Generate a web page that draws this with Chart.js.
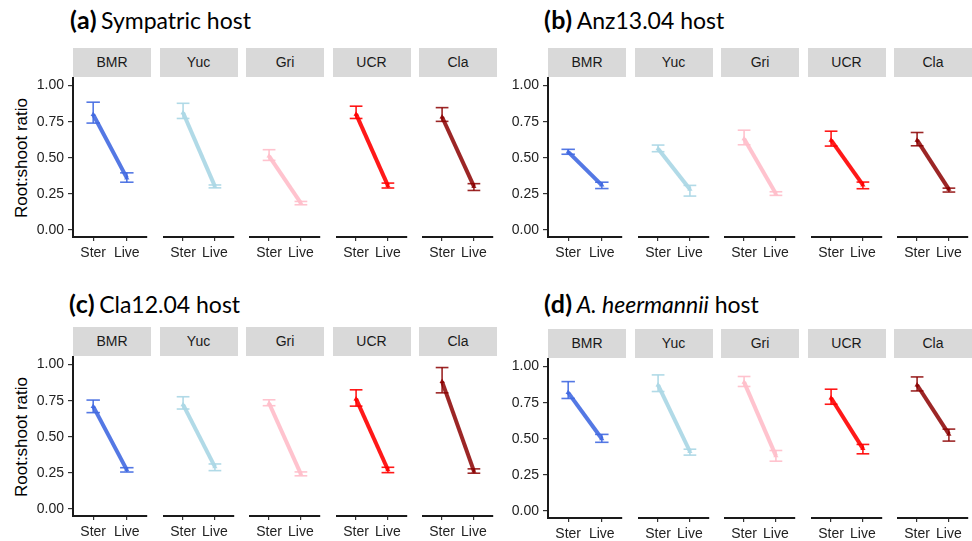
<!DOCTYPE html>
<html>
<head>
<meta charset="utf-8">
<script src="https://cdn.jsdelivr.net/npm/chart.js@4.4.1/dist/chart.umd.min.js"></script>
<style>
  html, body { margin: 0; padding: 0; background: #fff; }
  #fig { position: relative; width: 972px; height: 541px; overflow: hidden; font-family: "Liberation Sans", Arial, sans-serif; }
  .title { position: absolute; font-family: Lato, sans-serif; font-size: 23px; line-height: 23px; color: #000; white-space: nowrap; }
  .title b { font-weight: 700; font-size: 25px; margin-right: 4px; letter-spacing: 0.5px; }
  .strip { position: absolute; background: #d9d9d9; color: #1a1a1a; font-size: 14px; text-align: center; }
  .ylab { position: absolute; width: 200px; height: 20px; line-height: 20px; text-align: center; font-size: 17px; color: #000; transform: rotate(-90deg); white-space: nowrap; }
  canvas { position: absolute; }
</style>
</head>
<body>
<div id="fig"></div>
<script>
// categories
const strains = ['BMR', 'Yuc', 'Gri', 'UCR', 'Cla'];
const treatments = ['Ster', 'Live'];
const yTicks = [0, 0.25, 0.5, 0.75, 1];
const strainColors = ['rgba(65,105,225,0.9)', 'rgba(173,216,230,0.95)', 'rgba(255,192,203,0.95)', 'rgba(255,0,0,0.9)', 'rgba(139,0,0,0.85)'];

// (a) Sympatric host: [Ster, Live] per strain
const sympMean = [[0.80, 0.36], [0.81, 0.30], [0.51, 0.185], [0.80, 0.305], [0.78, 0.30]];
const sympLow  = [[0.74, 0.33], [0.77, 0.29], [0.48, 0.173], [0.77, 0.289], [0.75, 0.272]];
const sympHigh = [[0.885, 0.395], [0.875, 0.31], [0.554, 0.196], [0.855, 0.323], [0.845, 0.319]];

// (b) Anz13.04 host
const anzMean = [[0.54, 0.31], [0.56, 0.28], [0.63, 0.25], [0.62, 0.31], [0.62, 0.28]];
const anzLow  = [[0.524, 0.286], [0.54, 0.233], [0.588, 0.238], [0.579, 0.284], [0.581, 0.261]];
const anzHigh = [[0.558, 0.33], [0.586, 0.307], [0.689, 0.263], [0.682, 0.33], [0.673, 0.288]];

// (c) Cla12.04 host
const claMean = [[0.71, 0.27], [0.72, 0.29], [0.73, 0.24], [0.76, 0.27], [0.88, 0.26]];
const claLow  = [[0.667, 0.255], [0.69, 0.264], [0.713, 0.228], [0.71, 0.25], [0.802, 0.246]];
const claHigh = [[0.754, 0.285], [0.775, 0.31], [0.754, 0.255], [0.823, 0.287], [0.977, 0.276]];

// (d) A. heermannii host
const heerMean = [[0.82, 0.50], [0.87, 0.41], [0.89, 0.38], [0.78, 0.43], [0.87, 0.53]];
const heerLow  = [[0.779, 0.475], [0.825, 0.385], [0.86, 0.343], [0.737, 0.394], [0.829, 0.482]];
const heerHigh = [[0.896, 0.53], [0.94, 0.426], [0.929, 0.417], [0.841, 0.459], [0.926, 0.565]];

// layout
const FACET_W = 78, FACET_PITCH = 86.5, PLOT_H = 159, XAXIS_H = 30, PAD_TOP = 12, YAXIS_W = 73, STRIP_H = 29;
const CAP = 0.2;

const panels = [
  { tag: '(a)', name: 'Sympatric host', x0: 73, plotTop: 78, titleX: 70, titleTop: 8, ylab: true,
    mean: sympMean, low: sympLow, high: sympHigh },
  { tag: '(b)', name: 'Anz13.04 host', x0: 548, plotTop: 78, titleX: 544, titleTop: 8, ylab: false,
    mean: anzMean, low: anzLow, high: anzHigh },
  { tag: '(c)', name: 'Cla12.04 host', x0: 73, plotTop: 357, titleX: 69, titleTop: 292, ylab: true,
    mean: claMean, low: claLow, high: claHigh },
  { tag: '(d)', name: '<i>A. heermannii</i> host', x0: 548, plotTop: 359, titleX: 544, titleTop: 292, ylab: false,
    mean: heerMean, low: heerLow, high: heerHigh }
];

const fig = document.getElementById('fig');
const tickFont = { family: '"Liberation Sans", Arial, sans-serif', size: 14 };

function segment(x1, y1, x2, y2, color, width) {
  return {
    data: [{ x: x1, y: y1 }, { x: x2, y: y2 }],
    showLine: true, borderColor: color, borderWidth: width,
    pointRadius: 0, pointHoverRadius: 0, clip: false
  };
}

function errorBar(x, lo, hi, color) {
  return [
    segment(x, lo, x, hi, color, 1.6),
    segment(x - CAP, hi, x + CAP, hi, color, 1.6),
    segment(x - CAP, lo, x + CAP, lo, color, 1.6)
  ];
}

function makeFacet(panel, i) {
  const first = i === 0;
  const color = strainColors[i];
  const left = panel.x0 + i * FACET_PITCH;

  const strip = document.createElement('div');
  strip.className = 'strip';
  strip.style.left = left + 'px';
  strip.style.top = (panel.plotTop - STRIP_H - 1) + 'px';
  strip.style.width = FACET_W + 'px';
  strip.style.height = STRIP_H + 'px';
  strip.style.lineHeight = STRIP_H + 'px';
  strip.textContent = strains[i];
  fig.appendChild(strip);

  const canvas = document.createElement('canvas');
  const w = FACET_W + (first ? YAXIS_W : 0);
  canvas.width = w;
  canvas.height = PAD_TOP + PLOT_H + XAXIS_H;
  canvas.style.left = (left - (first ? YAXIS_W : 0)) + 'px';
  canvas.style.top = (panel.plotTop - PAD_TOP) + 'px';
  fig.appendChild(canvas);

  const m = panel.mean[i], lo = panel.low[i], hi = panel.high[i];
  const datasets = [
    {
      data: [{ x: 1, y: m[0] }, { x: 2, y: m[1] }],
      showLine: true, borderColor: color, borderWidth: 4,
      pointStyle: 'triangle', pointRadius: 3, pointBackgroundColor: color, pointBorderColor: color,
      pointBorderWidth: 0, clip: false
    },
    ...errorBar(1, lo[0], hi[0], color),
    ...errorBar(2, lo[1], hi[1], color)
  ];

  const axisGrid = { display: true, drawOnChartArea: false, drawTicks: true, tickLength: 4, color: '#333', lineWidth: 1.2 };
  const axisBorder = { display: true, color: '#1a1a1a', width: 2 };

  new Chart(canvas, {
    type: 'scatter',
    data: { datasets },
    options: {
      responsive: false,
      animation: false,
      layout: { padding: { top: PAD_TOP, left: 0, right: 0, bottom: 0 } },
      plugins: { legend: { display: false }, tooltip: { enabled: false } },
      scales: {
        x: {
          type: 'linear', min: 0.4, max: 2.6,
          afterBuildTicks: s => { s.ticks = [{ value: 1 }, { value: 2 }]; },
          afterFit: s => { s.height = XAXIS_H; },
          ticks: { callback: v => treatments[v - 1], font: tickFont, color: '#222', padding: 4, maxRotation: 0, autoSkip: false },
          grid: axisGrid, border: axisBorder
        },
        y: {
          type: 'linear', display: first, min: -0.05, max: 1.05,
          afterBuildTicks: s => { s.ticks = yTicks.map(v => ({ value: v })); },
          afterFit: s => { s.width = first ? YAXIS_W : 0; },
          ticks: { callback: v => v.toFixed(2), font: tickFont, color: '#222', padding: 4 },
          grid: Object.assign({}, axisGrid, { tickLength: 5 }), border: axisBorder
        }
      }
    }
  });
}

panels.forEach(panel => {
  const title = document.createElement('div');
  title.className = 'title';
  title.style.left = panel.titleX + 'px';
  title.style.top = panel.titleTop + 'px';
  title.innerHTML = '<b>' + panel.tag + '</b>' + panel.name;
  fig.appendChild(title);

  if (panel.ylab) {
    const yl = document.createElement('div');
    yl.className = 'ylab';
    yl.textContent = 'Root:shoot ratio';
    const cy = panel.plotTop + 80;
    yl.style.left = (22 - 100) + 'px';
    yl.style.top = (cy - 10) + 'px';
    fig.appendChild(yl);
  }

  strains.forEach((s, i) => makeFacet(panel, i));
});
</script>
</body>
</html>
